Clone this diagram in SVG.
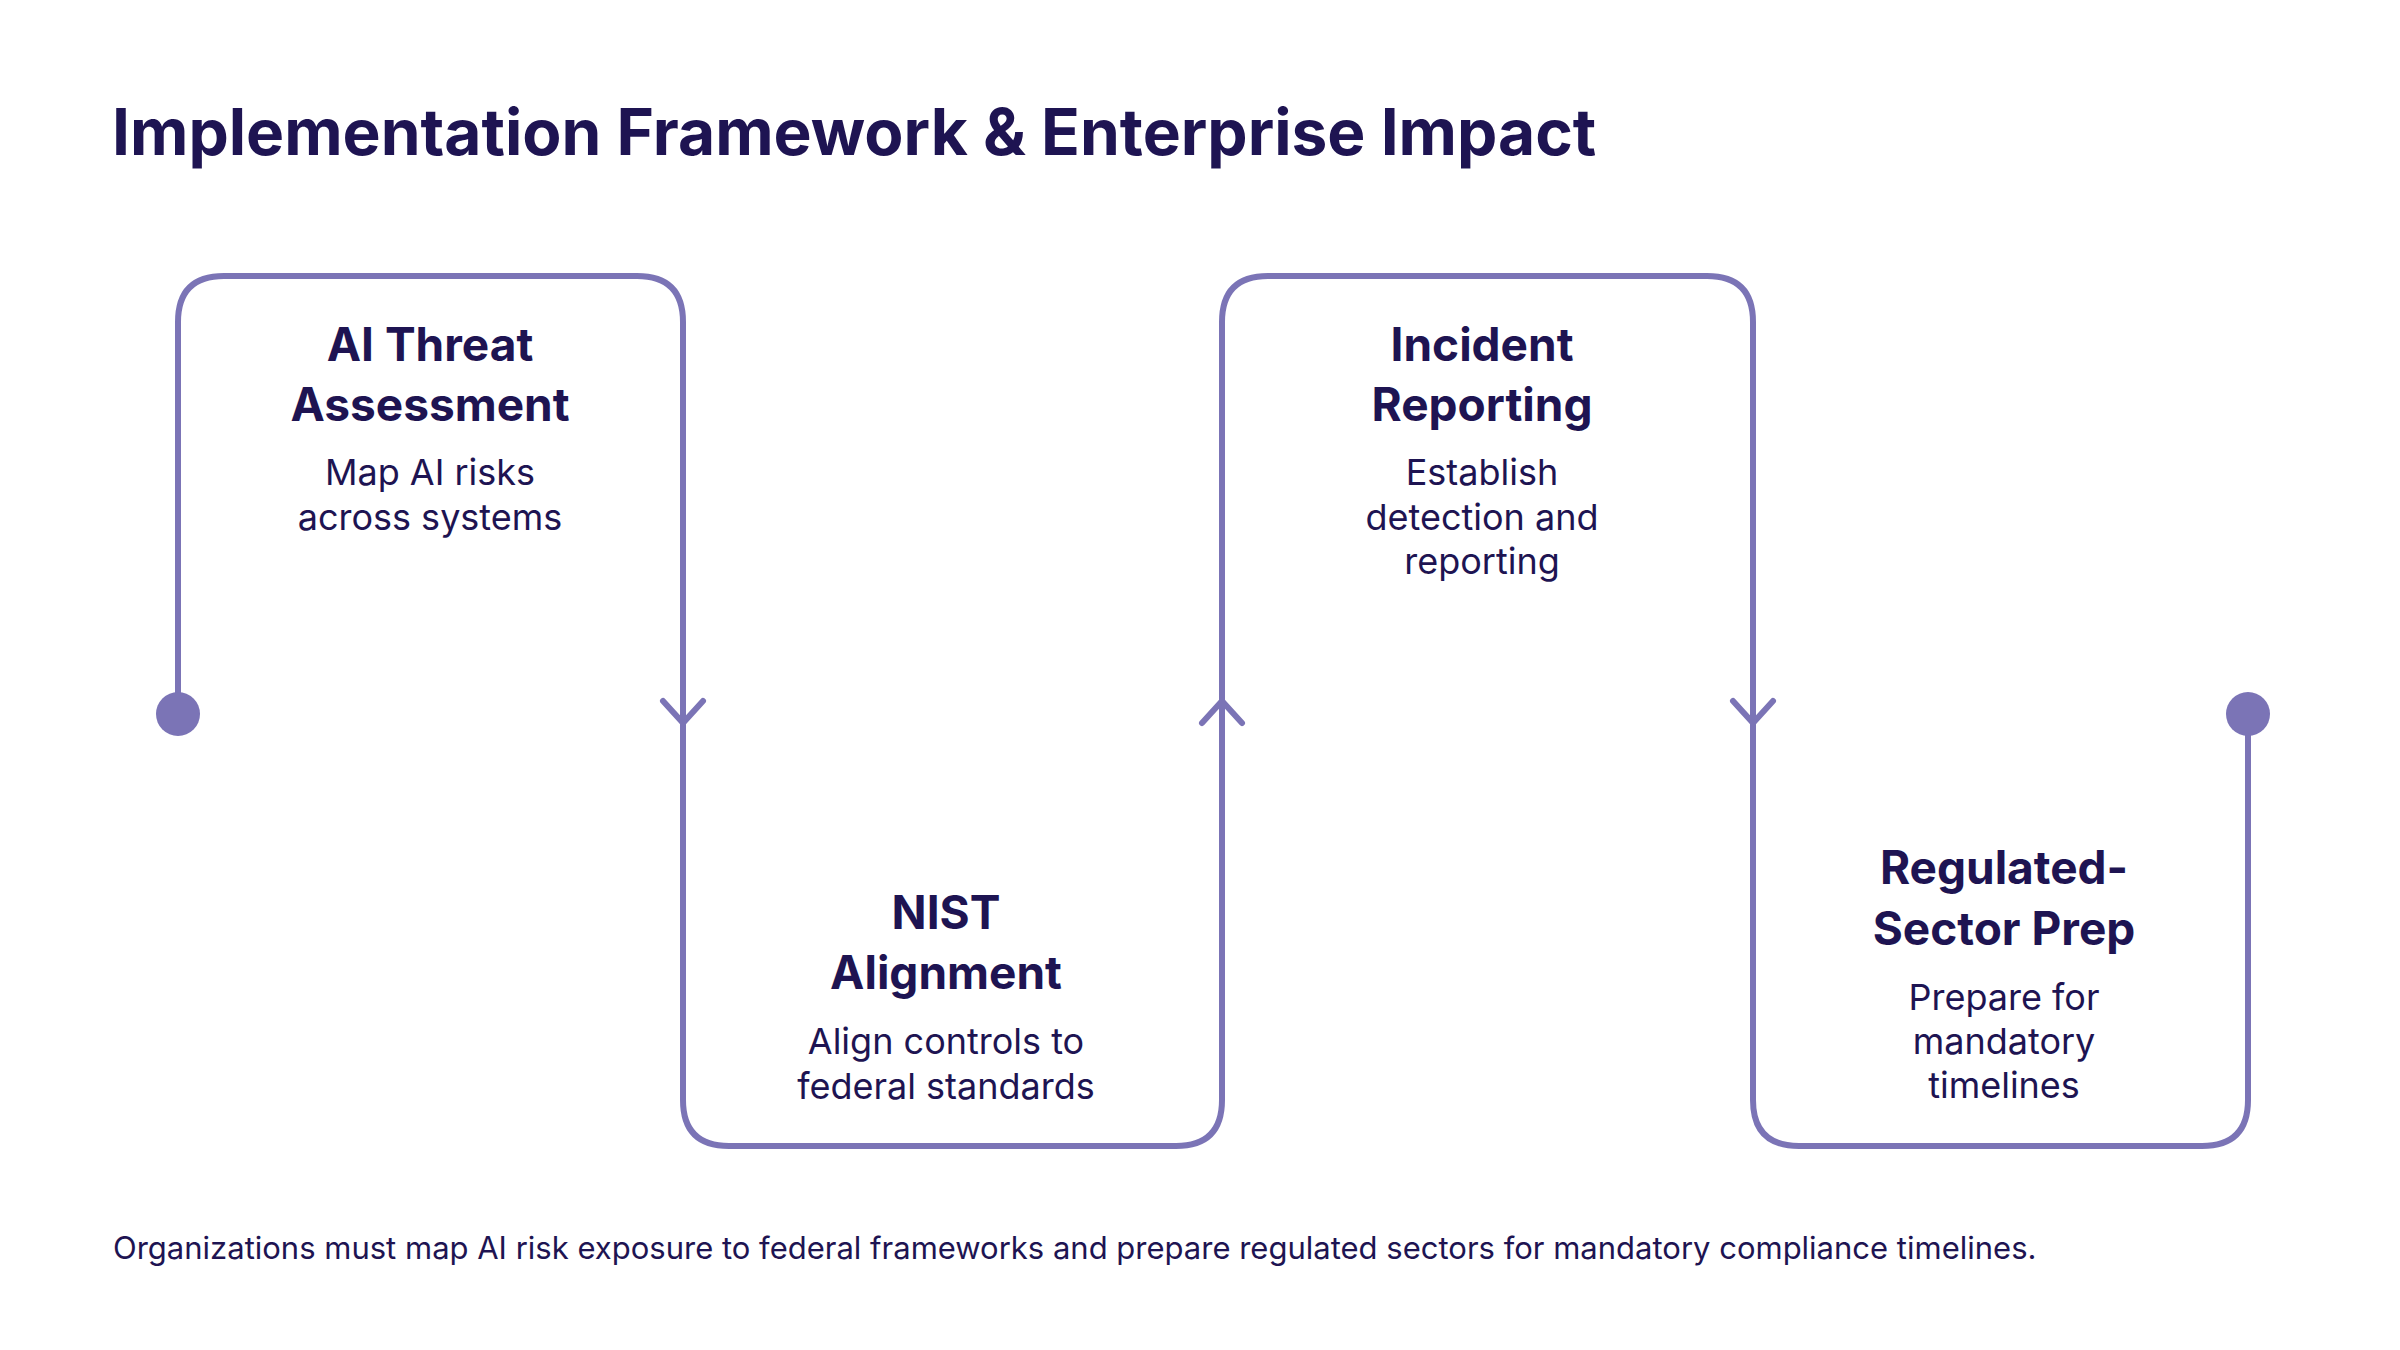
<svg xmlns="http://www.w3.org/2000/svg" width="2400" height="1350" viewBox="0 0 2400 1350">
<style>
.t{font-family:Inter,"Liberation Sans",sans-serif;fill:#1e1452}
.h{font-size:46px;font-weight:700;text-anchor:middle}
.d{font-size:36px;text-anchor:middle}
.ln{fill:none;stroke:#7b74b6;stroke-width:6;stroke-linecap:round;stroke-linejoin:round}
</style>
<rect width="2400" height="1350" fill="#fff"/>
<text class="t" x="112" y="155" font-size="64" font-weight="700">Implementation Framework &amp; Enterprise Impact</text>
<g id="connectors">
<path class="ln" d="M178,714 V322 Q178,276 224,276 H637 Q683,276 683,322 V1100 Q683,1146 729,1146 H1176 Q1222,1146 1222,1100 V322 Q1222,276 1268,276 H1707 Q1753,276 1753,322 V1100 Q1753,1146 1799,1146 H2202 Q2248,1146 2248,1100 V714"/>
<path class="ln" d="M663,701 L683,723 L703,701"/>
<path class="ln" d="M1202,723 L1222,701 L1242,723"/>
<path class="ln" d="M1733,701 L1753,723 L1773,701"/>
<circle cx="178" cy="714" r="22" fill="#7b74b6"/>
<circle cx="2248" cy="714" r="22" fill="#7b74b6"/>
</g>
<g id="n1"><text class="t h" x="430" y="361">AI Threat</text><text class="t h" x="430" y="421">Assessment</text><text class="t d" x="430" y="485">Map AI risks</text><text class="t d" x="430" y="530">across systems</text></g>
<g id="n2"><text class="t h" x="946" y="929">NIST</text><text class="t h" x="946" y="989">Alignment</text><text class="t d" x="946" y="1054">Align controls to</text><text class="t d" x="946" y="1099">federal standards</text></g>
<g id="n3"><text class="t h" x="1482" y="361">Incident</text><text class="t h" x="1482" y="421">Reporting</text><text class="t d" x="1482" y="485">Establish</text><text class="t d" x="1482" y="530">detection and</text><text class="t d" x="1482" y="574">reporting</text></g>
<g id="n4"><text class="t h" x="2004" y="884">Regulated-</text><text class="t h" x="2004" y="945">Sector Prep</text><text class="t d" x="2004" y="1010">Prepare for</text><text class="t d" x="2004" y="1054">mandatory</text><text class="t d" x="2004" y="1098">timelines</text></g>
<text class="t" x="113" y="1259" font-size="31" fill="#111">Organizations must map AI risk exposure to federal frameworks and prepare regulated sectors for mandatory compliance timelines.</text>
</svg>
